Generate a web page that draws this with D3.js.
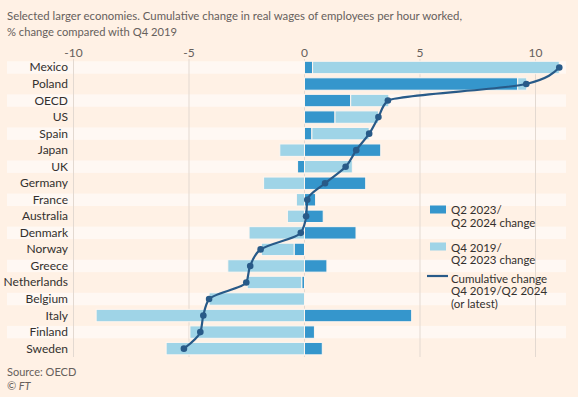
<!DOCTYPE html>
<html>
<head>
<meta charset="utf-8">
<script src="https://cdn.jsdelivr.net/npm/d3@7"></script>
<style>
  body { margin: 0; background: #fff1e5; }
  svg { display: block; }
  text { font-family: Lato, "Noto Sans", sans-serif; }
</style>
</head>
<body>
<div id="chart"></div>
<script>
var width = 578;
var height = 397;

// data
var countries = ["Mexico", "Poland", "OECD", "US", "Spain", "Japan", "UK", "Germany", "France",
    "Australia", "Denmark", "Norway", "Greece", "Netherlands", "Belgium", "Italy", "Finland", "Sweden"];
var recentChange = [0.35, 9.23, 2.0, 1.32, 0.32, 3.3, -0.3, 2.65, 0.48,
    0.81, 2.23, -0.45, 0.97, -0.12, 0, 4.64, 0.43, 0.77];
var earlierChange = [10.68, 0.39, 1.65, 1.88, 2.48, -1.07, 2.07, -1.77, -0.35,
    -0.74, -2.4, -1.42, -3.32, -2.36, -4.13, -9.02, -4.96, -5.99];
var cumulative = [11.03, 9.6, 3.61, 3.2, 2.8, 2.24, 1.78, 0.89, 0.12,
    0.07, -0.16, -1.9, -2.35, -2.52, -4.13, -4.38, -4.51, -5.22];
var xTicks = [-10, -5, 0, 5, 10];

var darkBlue = "#3596cc";
var lightBlue = "#9fd4e7";
var lineColor = "#285a88";

var svg = d3.select("#chart")
    .append("svg")
    .attr("width", width)
    .attr("height", height);

svg.append("rect")
    .attr("width", width)
    .attr("height", height)
    .attr("fill", "#fff1e5");

// title (FT font is narrower, so squeeze to the reference width)
svg.append("text")
    .attr("x", 7)
    .attr("y", 20)
    .attr("font-size", 12)
    .attr("fill", "#66605c")
    .attr("textLength", 455)
    .attr("lengthAdjust", "spacingAndGlyphs")
    .text("Selected larger economies. Cumulative change in real wages of employees per hour worked,");
svg.append("text")
    .attr("x", 7)
    .attr("y", 36)
    .attr("font-size", 12)
    .attr("fill", "#66605c")
    .attr("textLength", 170)
    .attr("lengthAdjust", "spacingAndGlyphs")
    .text("% change compared with Q4 2019");

var x = d3.scaleLinear()
    .domain([-10, 10])
    .range([73.5, 535.5]);

var y = d3.scaleBand()
    .domain(countries)
    .range([59.2, 356.9])
    .paddingInner(0.25)
    .paddingOuter(0.125);

// alternating row stripes
svg.append("g")
    .selectAll("rect")
    .data(countries.filter(function(d, i) { return i % 2 == 0; }))
    .enter()
    .append("rect")
    .attr("x", 7)
    .attr("y", function(d) { return y(d); })
    .attr("width", 559)
    .attr("height", y.bandwidth())
    .attr("fill", "#fff8f3");

// gridlines + tick labels
var grid = svg.append("g");
grid.selectAll("line")
    .data(xTicks)
    .enter()
    .append("line")
    .attr("x1", function(d) { return x(d); })
    .attr("x2", function(d) { return x(d); })
    .attr("y1", 59)
    .attr("y2", 357)
    .attr("stroke", "#e3d9d1")
    .attr("stroke-width", 1);
grid.selectAll("text")
    .data(xTicks)
    .enter()
    .append("text")
    .attr("x", function(d) { return x(d); })
    .attr("y", 57)
    .attr("text-anchor", "middle")
    .attr("font-size", 12)
    .attr("fill", "#66605c")
    .text(function(d) { return d; });

// stacked bars, dark segment sits next to zero
var rows = countries.map(function(c, i) {
    return { name: c, recent: recentChange[i], earlier: earlierChange[i] };
});
var series = d3.stack()
    .keys(["recent", "earlier"])
    .offset(d3.stackOffsetDiverging)(rows);
var colors = { recent: darkBlue, earlier: lightBlue };

svg.append("g")
    .selectAll("g")
    .data(series)
    .enter()
    .append("g")
    .attr("fill", function(d) { return colors[d.key]; })
    .selectAll("rect")
    .data(function(d) { return d; })
    .enter()
    .append("rect")
    .attr("x", function(d) { return x(Math.min(d[0], d[1])); })
    .attr("y", function(d) { return y(d.data.name); })
    .attr("width", function(d) { return Math.abs(x(d[1]) - x(d[0])); })
    .attr("height", y.bandwidth())
    .attr("stroke", "#fff6ef")
    .attr("stroke-width", 1);

// category labels
svg.append("g")
    .selectAll("text")
    .data(countries)
    .enter()
    .append("text")
    .attr("x", 68)
    .attr("y", function(d) { return y(d) + y.bandwidth() / 2 + 4; })
    .attr("text-anchor", "end")
    .attr("font-size", 12)
    .attr("fill", "#33302e")
    .text(function(d) { return d; });

// cumulative line
var points = countries.map(function(c, i) { return [x(cumulative[i]), y(c) + y.bandwidth() / 2]; });
svg.append("path")
    .datum(points)
    .attr("fill", "none")
    .attr("stroke", lineColor)
    .attr("stroke-width", 2.2)
    .attr("d", d3.line().curve(d3.curveMonotoneY));
svg.append("g")
    .selectAll("circle")
    .data(points)
    .enter()
    .append("circle")
    .attr("cx", function(d) { return d[0]; })
    .attr("cy", function(d) { return d[1]; })
    .attr("r", 3.3)
    .attr("fill", lineColor);

// legend
var legend = svg.append("g").attr("font-size", 11.5).attr("fill", "#33302e");
legend.append("rect").attr("x", 430).attr("y", 205.5).attr("width", 16).attr("height", 8).attr("fill", darkBlue);
legend.append("text").attr("x", 451).attr("y", 214).text("Q2 2023/");
legend.append("text").attr("x", 451).attr("y", 226.5).text("Q2 2024 change");
legend.append("rect").attr("x", 430).attr("y", 242.5).attr("width", 16).attr("height", 8).attr("fill", lightBlue);
legend.append("text").attr("x", 451).attr("y", 251.5).text("Q4 2019/");
legend.append("text").attr("x", 451).attr("y", 264).text("Q2 2023 change");
legend.append("line").attr("x1", 427).attr("x2", 448).attr("y1", 276).attr("y2", 276)
    .attr("stroke", lineColor).attr("stroke-width", 2.2);
legend.append("text").attr("x", 451).attr("y", 282.5).text("Cumulative change");
legend.append("text").attr("x", 451).attr("y", 295).text("Q4 2019/Q2 2024");
legend.append("text").attr("x", 451).attr("y", 307.5).text("(or latest)");

// source
svg.append("text").attr("x", 7).attr("y", 376).attr("font-size", 11).attr("fill", "#66605c").text("Source: OECD");
svg.append("text").attr("x", 7).attr("y", 390).attr("font-size", 11).attr("fill", "#66605c")
    .attr("font-style", "italic").text("© FT");
</script>
</body>
</html>
